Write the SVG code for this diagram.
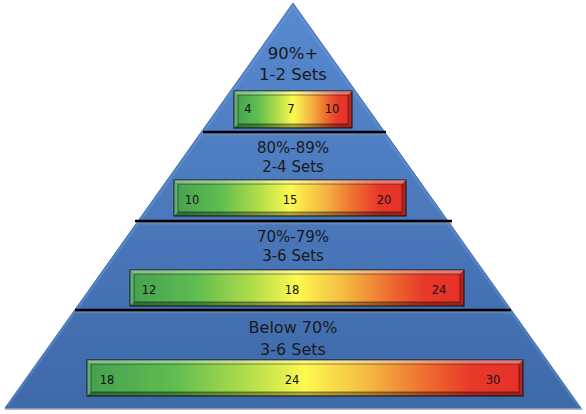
<svg xmlns="http://www.w3.org/2000/svg" width="586" height="414" viewBox="0 0 586 414">
<defs>
<linearGradient id="tri" x1="0" y1="0" x2="0" y2="1">
<stop offset="0" stop-color="#5889cf"/>
<stop offset="1" stop-color="#3e69a9"/>
</linearGradient>
<linearGradient id="heat" x1="0" y1="0" x2="1" y2="0">
<stop offset="0" stop-color="#45a050"/>
<stop offset="0.2" stop-color="#5fbd4f"/>
<stop offset="0.36" stop-color="#aedb4a"/>
<stop offset="0.5" stop-color="#fcf94f"/>
<stop offset="0.64" stop-color="#f4bb42"/>
<stop offset="0.78" stop-color="#ee6b30"/>
<stop offset="0.88" stop-color="#e8392a"/>
<stop offset="1" stop-color="#e6302a"/>
</linearGradient>
</defs>
<style>
.title{font-family:"DejaVu Sans","Liberation Sans",sans-serif;fill:#1a1a1a;text-anchor:middle}
.num{font-family:"DejaVu Sans","Liberation Sans",sans-serif;font-size:11.5px;fill:#111;text-anchor:middle}
.bar{fill:url(#heat);stroke:#111;stroke-width:1}
.inner{fill:none;stroke:#000;stroke-opacity:0.55;stroke-width:0.8}
.bt{fill:#fff;fill-opacity:0.32}
.bl{fill:#fff;fill-opacity:0.15}
.bb{fill:#000;fill-opacity:0.32}
.br{fill:#000;fill-opacity:0.22}
.sep{stroke:#000;stroke-width:2.6}
.sepsh{stroke:#7a8fa8;stroke-width:2;stroke-opacity:0.6}
</style>
<g id="pyramid">
<polygon points="5,408 582,408 583,410 4,410" fill="#b8b8b8"/>
<polygon points="293,3 581,408 5,408" fill="url(#tri)" stroke="#4674b4" stroke-width="1"/>
<polyline points="8,406 293,7 578,406" fill="none" stroke="#7aa8e6" stroke-opacity="0.3" stroke-width="2"/>
</g>
<g id="connectors">
<line class="sepsh" x1="204" y1="134.5" x2="386" y2="134.5"/>
<line class="sep" x1="203" y1="132" x2="386" y2="132"/>
<line class="sepsh" x1="136" y1="223.5" x2="452" y2="223.5"/>
<line class="sep" x1="135" y1="221" x2="452" y2="221"/>
<line class="sepsh" x1="76" y1="312.5" x2="511" y2="312.5"/>
<line class="sep" x1="75" y1="310" x2="511" y2="310"/>
</g>
<g id="tier1">
<text class="title" x="293" y="59" font-size="16.5">90%+</text>
<text class="title" x="293" y="80" font-size="16.5">1-2 Sets</text>
<rect class="bar" x="234" y="91" width="118" height="37"/>
<polygon class="bt" points="234,91 352,91 348,95 238,95"/>
<polygon class="bl" points="234,91 238,95 238,124 234,128"/>
<polygon class="bb" points="234,128 352,128 348,124 238,124"/>
<polygon class="br" points="352,91 352,128 348,124 348,95"/>
<rect class="inner" x="238" y="95" width="110" height="29"/>
<text class="num" x="248" y="113">4</text>
<text class="num" x="291" y="113">7</text>
<text class="num" x="332" y="113">10</text>
</g>
<g id="tier2">
<text class="title" x="293" y="153" font-size="15">80%-89%</text>
<text class="title" x="293" y="172" font-size="15">2-4 Sets</text>
<rect class="bar" x="174" y="180" width="232" height="36"/>
<polygon class="bt" points="174,180 406,180 402,184 178,184"/>
<polygon class="bl" points="174,180 178,184 178,212 174,216"/>
<polygon class="bb" points="174,216 406,216 402,212 178,212"/>
<polygon class="br" points="406,180 406,216 402,212 402,184"/>
<rect class="inner" x="178" y="184" width="224" height="28"/>
<text class="num" x="192" y="204">10</text>
<text class="num" x="290" y="204">15</text>
<text class="num" x="384" y="204">20</text>
</g>
<g id="tier3">
<text class="title" x="293" y="242" font-size="15">70%-79%</text>
<text class="title" x="293" y="261" font-size="15">3-6 Sets</text>
<rect class="bar" x="130" y="270" width="334" height="36"/>
<polygon class="bt" points="130,270 464,270 460,274 134,274"/>
<polygon class="bl" points="130,270 134,274 134,302 130,306"/>
<polygon class="bb" points="130,306 464,306 460,302 134,302"/>
<polygon class="br" points="464,270 464,306 460,302 460,274"/>
<rect class="inner" x="134" y="274" width="326" height="28"/>
<text class="num" x="149" y="294">12</text>
<text class="num" x="292" y="294">18</text>
<text class="num" x="439" y="294">24</text>
</g>
<g id="tier4">
<text class="title" x="293" y="333" font-size="16">Below 70%</text>
<text class="title" x="293" y="355" font-size="16">3-6 Sets</text>
<rect class="bar" x="87" y="360" width="436" height="36"/>
<polygon class="bt" points="87,360 523,360 519,364 91,364"/>
<polygon class="bl" points="87,360 91,364 91,392 87,396"/>
<polygon class="bb" points="87,396 523,396 519,392 91,392"/>
<polygon class="br" points="523,360 523,396 519,392 519,364"/>
<rect class="inner" x="91" y="364" width="428" height="28"/>
<text class="num" x="107" y="384">18</text>
<text class="num" x="292" y="384">24</text>
<text class="num" x="493" y="384">30</text>
</g>
</svg>
